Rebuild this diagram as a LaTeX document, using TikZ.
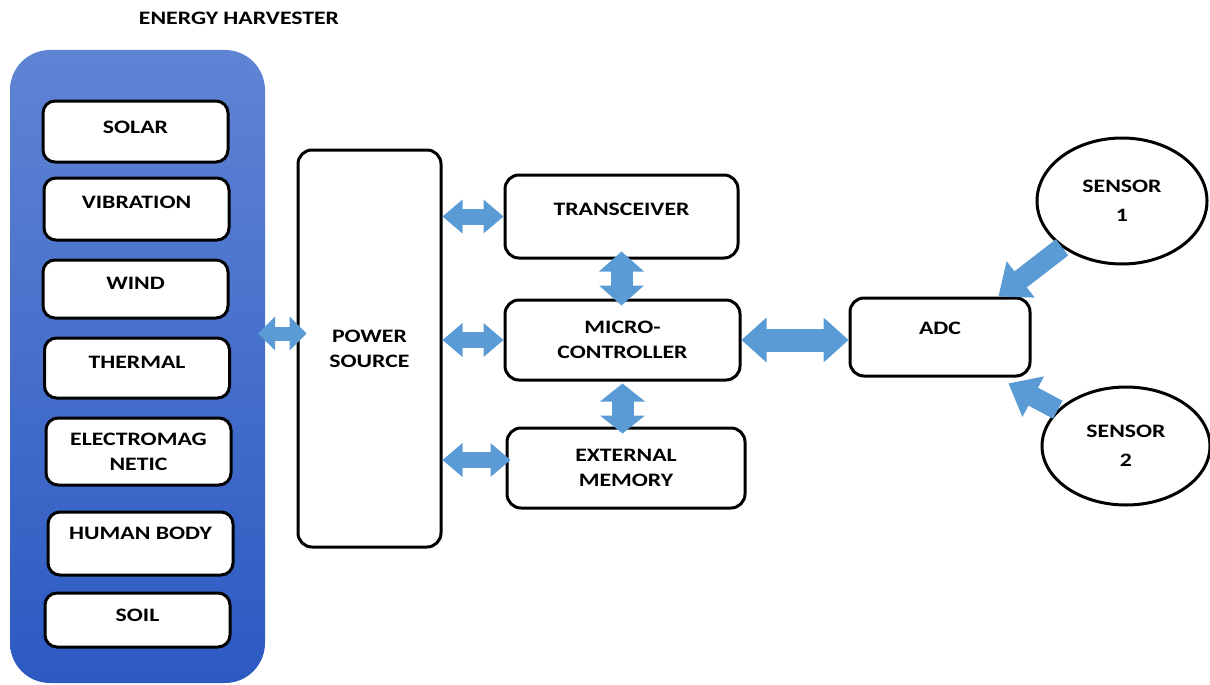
\documentclass[tikz,border=0pt]{standalone}
\usepackage{fontspec}
\setmainfont{Carlito}[FakeStretch=1.25]
\usepackage{xcolor}
\usepackage{tikz}
\usetikzlibrary{arrows.meta,shapes.geometric}

\definecolor{arrowblue}{RGB}{91,155,213}
\definecolor{paneltop}{RGB}{96,132,212}
\definecolor{panelbot}{RGB}{44,90,194}

\begin{document}
\begin{tikzpicture}[x=1pt, y=-1pt,
    every node/.style={font=\fontsize{19}{25}\selectfont\bfseries, align=center},
    panelbox/.style={rounded corners=40pt, top color=paneltop, bottom color=panelbot, draw=none},
    srcbox/.style={draw=black, fill=white, line width=3pt, rounded corners=12pt},
    blockbox/.style={draw=black, fill=white, line width=3pt, rounded corners=14pt},
    sensor/.style={ellipse, draw=black, fill=white, line width=3pt,
        font=\fontsize{19}{29}\selectfont\bfseries},
    dblarrow/.style n args={4}{draw=arrowblue, line width=#1,
        preaction={draw=arrowblue, line width=#1, arrows=-, shorten <=#4, shorten >=#4},
        {Triangle[length=#3, width=#2, line width=0pt]}-{Triangle[length=#3, width=#2, line width=0pt]}},
    sglarrow/.style={draw=arrowblue, line width=20pt,
        preaction={draw=arrowblue, line width=20pt, arrows=-, shorten >=24pt},
        -{Triangle[length=28pt, width=46pt, line width=0pt]}}]
    \useasboundingbox (0,0) rectangle (1210,685);

    % energy harvester column
    \node (title) at (239,18.5) {ENERGY HARVESTER};
    \node[panelbox, minimum width=255pt, minimum height=633pt] (panel) at (137.5,366.5) {};
    \foreach \nm/\cx/\cy/\hh/\dep/\txt in {solar/135.5/131.5/61/9/SOLAR,
        vib/136.5/209/62/14/VIBRATION, wind/135.5/289/58/12/WIND,
        thermal/137/368/60/12/THERMAL, electro/138.5/451.5/67/0/{ELECTROMAG\\NETIC},
        human/140.5/543.5/63/20/HUMAN BODY, soil/137.5/620/54/10/SOIL}
        \node[srcbox, minimum width=185pt, minimum height=\hh pt, text depth=\dep pt]
            (\nm) at (\cx,\cy) {\txt};

    % blocks
    \node[blockbox, minimum width=143pt, minimum height=397pt] (power) at (369.5,348.5) {POWER\\SOURCE};
    \node[blockbox, minimum width=233pt, minimum height=83pt, text depth=15pt] (trans) at (621.5,216.5) {TRANSCEIVER};
    \node[blockbox, minimum width=235pt, minimum height=80pt] (micro) at (622.5,340) {MICRO-\\CONTROLLER};
    \node[blockbox, minimum width=238pt, minimum height=80pt] (mem) at (626,468) {EXTERNAL\\MEMORY};
    \node[blockbox, minimum width=180pt, minimum height=78pt, text depth=18pt] (adc) at (940,337) {ADC};
    \node[sensor, minimum width=170pt, minimum height=126pt] (s1) at (1122,201) {SENSOR\\1};
    \node[sensor, minimum width=168pt, minimum height=118pt] (s2) at (1126,446) {SENSOR\\2};

    % arrows
    \draw[dblarrow={14pt}{34pt}{17pt}{13pt}] ([shift={(-7,-15)}]panel.east |- power.west) -- ([shift={(10,-15)}]power.west);
    \draw[dblarrow={16pt}{34pt}{20pt}{16pt}] (power.east |- trans.west) -- (trans.west);
    \draw[dblarrow={16pt}{34pt}{20pt}{16pt}] (power.east |- micro.west) -- (micro.west);
    \draw[dblarrow={16pt}{34pt}{20pt}{16pt}] ([yshift=8pt]power.east |- mem.west) -- ([shift={(5,-8)}]mem.west);
    \draw[dblarrow={22pt}{45pt}{20pt}{16pt}] ([yshift=8pt]trans.south) -- ([yshift=-7pt]micro.north -| trans.south);
    \draw[dblarrow={22pt}{45pt}{18pt}{14pt}] ([yshift=-2pt]micro.south) -- ([yshift=-7pt]micro.south |- mem.north);
    \draw[dblarrow={23pt}{45pt}{25pt}{21pt}] (micro.east) -- (micro.east -| adc.west);
    \draw[sglarrow] (s1) -- ([xshift=-33pt]adc.north east);
    \draw[sglarrow] (s2) -- ([shift={(-23,6)}]adc.south east);
\end{tikzpicture}
\end{document}
